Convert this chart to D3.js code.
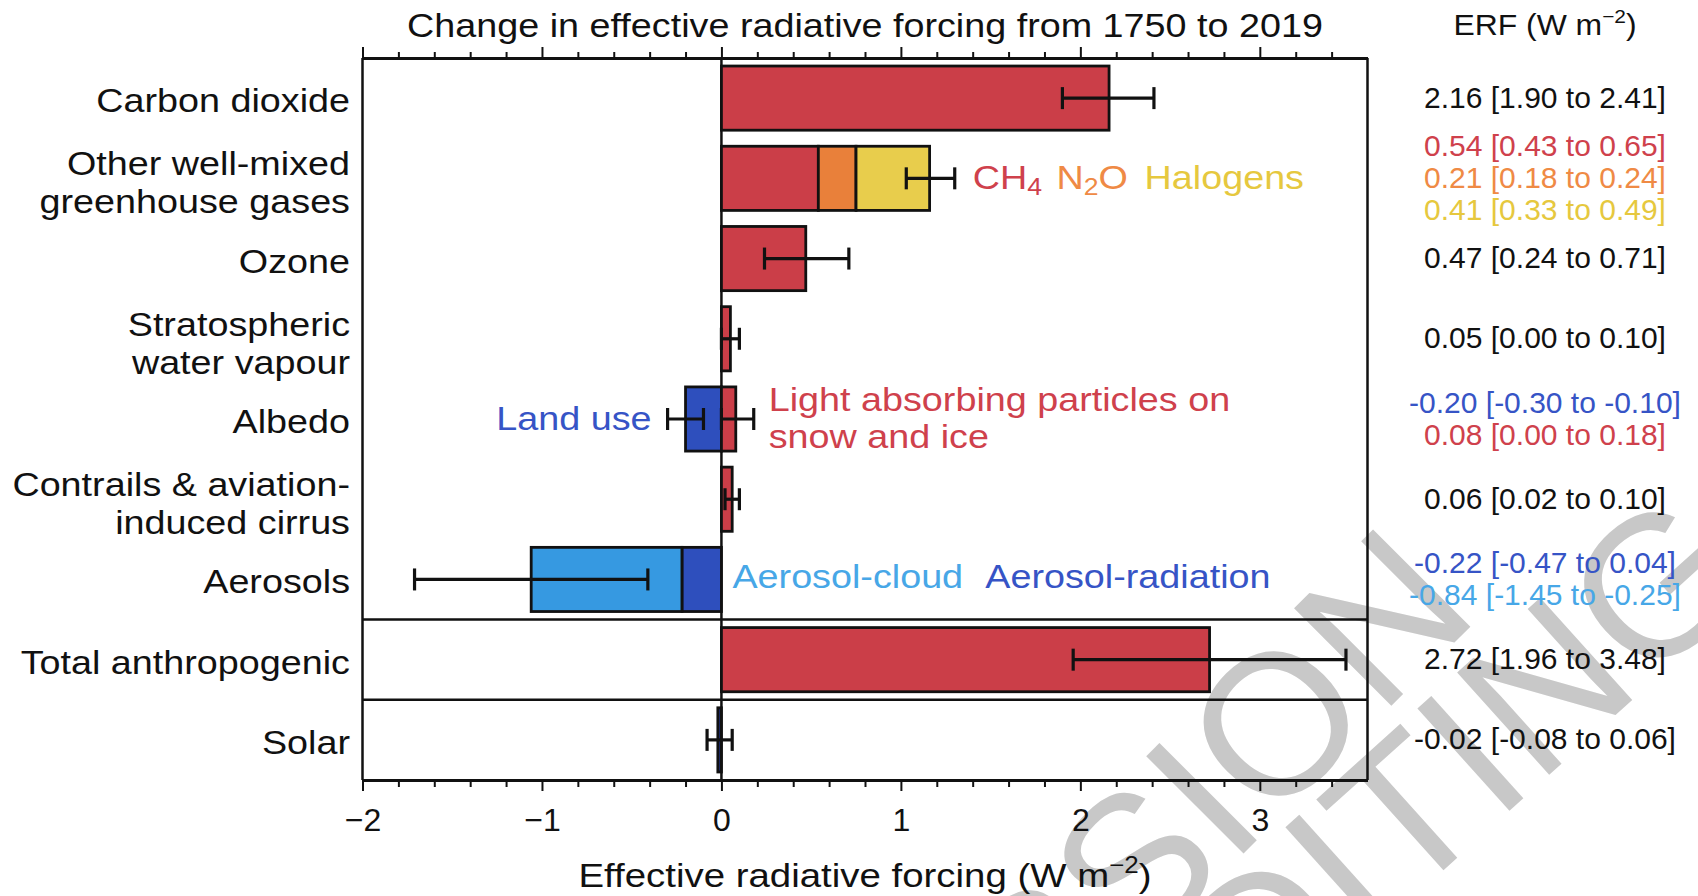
<!DOCTYPE html>
<html>
<head>
<meta charset="utf-8">
<script src="https://cdn.jsdelivr.net/npm/d3@7"></script>
<style>
  body { margin: 0; background: #fff; }
  text { font-family: "Liberation Sans", Arial, Helvetica, sans-serif; }
</style>
</head>
<body>
<svg id="chart" width="1698" height="896"></svg>
<script>
// rows, top to bottom
const rowKeys = ["co2", "wmghg", "ozone", "h2o", "albedo", "contrails", "aerosols", "total", "solar"];
const rowLabels = [
    ["Carbon dioxide"],
    ["Other well-mixed", "greenhouse gases"],
    ["Ozone"],
    ["Stratospheric", "water vapour"],
    ["Albedo"],
    ["Contrails & aviation-", "induced cirrus"],
    ["Aerosols"],
    ["Total anthropogenic"],
    ["Solar"]
];

// bar segments, stacked outward from zero in this order
const segRow   = ["co2", "wmghg", "wmghg", "wmghg", "ozone", "h2o", "albedo", "albedo", "contrails", "aerosols", "aerosols", "total", "solar"];
const segValue = [2.16, 0.54, 0.21, 0.41, 0.47, 0.05, -0.20, 0.08, 0.06, -0.22, -0.84, 2.72, -0.02];
const segColor = ["red", "red", "orange", "yellow", "red", "red", "blue", "red", "red", "blue", "lightblue", "red", "navy"];

// whiskers as drawn in the figure
const errRow  = ["co2", "wmghg", "ozone", "h2o", "albedo", "albedo", "contrails", "aerosols", "total", "solar"];
const errLow  = [1.90, 1.03, 0.24, 0.00, -0.30, 0.00, 0.02, -1.71, 1.96, -0.08];
const errHigh = [2.41, 1.30, 0.71, 0.10, -0.10, 0.18, 0.10, -0.41, 3.48, 0.06];

// ERF column on the right
const erfRow   = ["co2", "wmghg", "wmghg", "wmghg", "ozone", "h2o", "albedo", "albedo", "contrails", "aerosols", "aerosols", "total", "solar"];
const erfText  = ["2.16 [1.90 to 2.41]", "0.54 [0.43 to 0.65]", "0.21 [0.18 to 0.24]", "0.41 [0.33 to 0.49]",
                  "0.47 [0.24 to 0.71]", "0.05 [0.00 to 0.10]", "-0.20 [-0.30 to -0.10]", "0.08 [0.00 to 0.18]",
                  "0.06 [0.02 to 0.10]", "-0.22 [-0.47 to 0.04]", "-0.84 [-1.45 to -0.25]", "2.72 [1.96 to 3.48]",
                  "-0.02 [-0.08 to 0.06]"];
const erfColor = ["black", "red", "orange", "yellow", "black", "black", "blue", "red", "black", "blue", "lightblue", "black", "black"];

const majorTicks = [-2, -1, 0, 1, 2, 3];
const minorTicks = [-1.8, -1.6, -1.4, -1.2, -0.8, -0.6, -0.4, -0.2, 0.2, 0.4, 0.6, 0.8,
                    1.2, 1.4, 1.6, 1.8, 2.2, 2.4, 2.6, 2.8, 3.2, 3.4];

const fillColor = {red: "#cb3e48", orange: "#e9803a", yellow: "#e8cd4c", blue: "#2e4fbd", lightblue: "#3699e1", navy: "#1c2c7a"};
const textColor = {red: "#cf414c", orange: "#ef8a45", yellow: "#e6c83e", blue: "#3654c6", lightblue: "#47a7e7", black: "#111"};

const svg = d3.select("#chart");
const plotTop = 58, plotBottom = 780;
const sx = 1.11; // the source font runs wider than Liberation Sans

let x = d3.scaleLinear()
            .domain([-2, 3.6])
            .range([362.5, 1367.5]);
let y = d3.scaleBand()
            .domain(rowKeys)
            .range([plotTop, plotBottom])
            .paddingInner(0.2)
            .paddingOuter(0.1);
let mid = r => y(r) + y.bandwidth() / 2;

function stretched(g, px, py, size, k) {
    return g.append("text")
        .attr("transform", "translate(" + px + "," + py + ") scale(" + k + ",1)")
        .attr("font-size", size);
}

// watermark, behind everything
let wm = svg.append("g").attr("fill", "#c8c8c8").attr("font-size", 200);
wm.append("text")
    .attr("transform", "translate(1482,615) rotate(-45)")
    .attr("text-anchor", "end")
    .text("VERSION");
wm.append("text")
    .attr("transform", "translate(1760,585) rotate(-42)")
    .attr("text-anchor", "end")
    .text("EDITING");

// zero line
svg.append("line")
    .attr("x1", x(0)).attr("x2", x(0))
    .attr("y1", plotTop).attr("y2", plotBottom)
    .attr("stroke", "#111").attr("stroke-width", 2.5);

// separators above total and solar
["total", "solar"].forEach(r => {
    let yy = y(r) - y.step() * y.paddingInner() / 2;
    svg.append("line")
        .attr("x1", x.range()[0]).attr("x2", x.range()[1])
        .attr("y1", yy).attr("y2", yy)
        .attr("stroke", "#111").attr("stroke-width", 2.5);
});

// stacked segments
let posEnd = {}, negEnd = {};
let segs = segRow.map((r, i) => {
    let v = segValue[i], a;
    if (v >= 0) { a = posEnd[r] || 0; posEnd[r] = a + v; }
    else { a = negEnd[r] || 0; negEnd[r] = a + v; }
    return {row: r, a: a, b: a + v, color: segColor[i]};
});

svg.selectAll(".seg")
    .data(segs)
    .enter()
    .append("rect")
      .classed("seg", true)
      .attr("x", d => x(Math.min(d.a, d.b)))
      .attr("width", d => Math.abs(x(d.b) - x(d.a)))
      .attr("y", d => y(d.row))
      .attr("height", y.bandwidth())
      .attr("fill", d => fillColor[d.color])
      .attr("stroke", "#111")
      .attr("stroke-width", 2.8);

// whiskers
let errs = errRow.map((r, i) => ({row: r, lo: errLow[i], hi: errHigh[i]}));
let capH = 11;
let eg = svg.append("g").attr("stroke", "#111").attr("stroke-width", 3.2);
errs.forEach(d => {
    let cy = mid(d.row);
    eg.append("line").attr("x1", x(d.lo)).attr("x2", x(d.hi)).attr("y1", cy).attr("y2", cy);
    eg.append("line").attr("x1", x(d.lo)).attr("x2", x(d.lo)).attr("y1", cy - capH).attr("y2", cy + capH);
    eg.append("line").attr("x1", x(d.hi)).attr("x2", x(d.hi)).attr("y1", cy - capH).attr("y2", cy + capH);
});

// frame sides
[x.range()[0], x.range()[1]].forEach(xx => {
    svg.append("line")
        .attr("x1", xx).attr("x2", xx)
        .attr("y1", plotTop).attr("y2", plotBottom)
        .attr("stroke", "#111").attr("stroke-width", 2.5);
});

// axes
function styleAxis(g) {
    g.select(".domain").attr("stroke", "#111").attr("stroke-width", 3);
    g.selectAll(".tick line").attr("stroke", "#111").attr("stroke-width", 2);
}
svg.append("g")
    .attr("transform", "translate(0," + plotBottom + ")")
    .call(d3.axisBottom(x).tickValues(minorTicks).tickSize(7).tickSizeOuter(0).tickFormat(""))
    .call(styleAxis);
svg.append("g")
    .attr("transform", "translate(0," + plotBottom + ")")
    .call(d3.axisBottom(x).tickValues(majorTicks).tickSize(11).tickSizeOuter(0).tickPadding(17).tickFormat(d3.format("d")))
    .call(styleAxis)
    .call(g => g.selectAll(".tick text")
        .attr("font-size", 32)
        .attr("font-family", "'Liberation Sans', Arial, sans-serif")
        .attr("fill", "#111"));
svg.append("g")
    .attr("transform", "translate(0," + plotTop + ")")
    .call(d3.axisTop(x).tickValues(minorTicks).tickSize(6).tickSizeOuter(0).tickFormat(""))
    .call(styleAxis);
svg.append("g")
    .attr("transform", "translate(0," + plotTop + ")")
    .call(d3.axisTop(x).tickValues(majorTicks).tickSize(11).tickSizeOuter(0).tickFormat(""))
    .call(styleAxis);

// titles
let xMid = (x.range()[0] + x.range()[1]) / 2;
stretched(svg, xMid, 37, 34, sx)
    .attr("text-anchor", "middle").attr("fill", "#111")
    .text("Change in effective radiative forcing from 1750 to 2019");

let xt = stretched(svg, xMid, 887, 34, 1.13).attr("text-anchor", "middle").attr("fill", "#111");
xt.append("tspan").text("Effective radiative forcing (W m");
xt.append("tspan").attr("font-size", 23).attr("dy", -14).text("−2");
xt.append("tspan").attr("dy", 14).text(")");

let erfX = 1545;
let eh = stretched(svg, erfX, 35, 29, 1.1).attr("text-anchor", "middle").attr("fill", "#111");
eh.append("tspan").text("ERF (W m");
eh.append("tspan").attr("font-size", 19).attr("dy", -12).text("−2");
eh.append("tspan").attr("dy", 12).text(")");

// row labels
rowLabels.forEach((lines, i) => {
    let cy = mid(rowKeys[i]) + 2 + (lines.length - 1) * 2;
    lines.forEach((t, j) => {
        let off = (j - (lines.length - 1) / 2) * 38;
        stretched(svg, 350, cy + off + 12, 34, sx)
            .attr("text-anchor", "end").attr("fill", "#111")
            .text(t);
    });
});

// ERF values
rowKeys.forEach(r => {
    let idx = erfRow.map((rr, i) => rr === r ? i : -1).filter(i => i >= 0);
    idx.forEach((i, j) => {
        let off = (j - (idx.length - 1) / 2) * 32 - 1;
        svg.append("text")
            .attr("x", erfX)
            .attr("y", mid(r) + off + 10.5)
            .attr("font-size", 30)
            .attr("text-anchor", "middle")
            .attr("fill", textColor[erfColor[i]])
            .text(erfText[i]);
    });
});

// in-plot annotations
let gh = stretched(svg, x(1.30) + 18, mid("wmghg") + 11, 34, sx);
gh.append("tspan").attr("fill", textColor.red).text("CH");
gh.append("tspan").attr("fill", textColor.red).attr("font-size", 24).attr("dy", 6).text("4");
gh.append("tspan").attr("fill", textColor.orange).attr("dy", -6).attr("dx", 13).text("N");
gh.append("tspan").attr("fill", textColor.orange).attr("font-size", 24).attr("dy", 6).text("2");
gh.append("tspan").attr("fill", textColor.orange).attr("dy", -6).text("O");
gh.append("tspan").attr("fill", textColor.yellow).attr("dx", 15).text("Halogens");

stretched(svg, x(-0.30) - 16, mid("albedo") + 11, 34, sx)
    .attr("text-anchor", "end").attr("fill", textColor.blue)
    .text("Land use");
stretched(svg, x(0.18) + 15, mid("albedo") - 8.5, 34, sx)
    .attr("fill", textColor.red)
    .text("Light absorbing particles on");
stretched(svg, x(0.18) + 15, mid("albedo") + 28.5, 34, sx)
    .attr("fill", textColor.red)
    .text("snow and ice");

let ae = stretched(svg, x(0) + 11, mid("aerosols") + 9, 34, sx);
ae.append("tspan").attr("fill", textColor.lightblue).text("Aerosol-cloud");
ae.append("tspan").attr("fill", textColor.blue).attr("dx", 20).text("Aerosol-radiation");
</script>
</body>
</html>
